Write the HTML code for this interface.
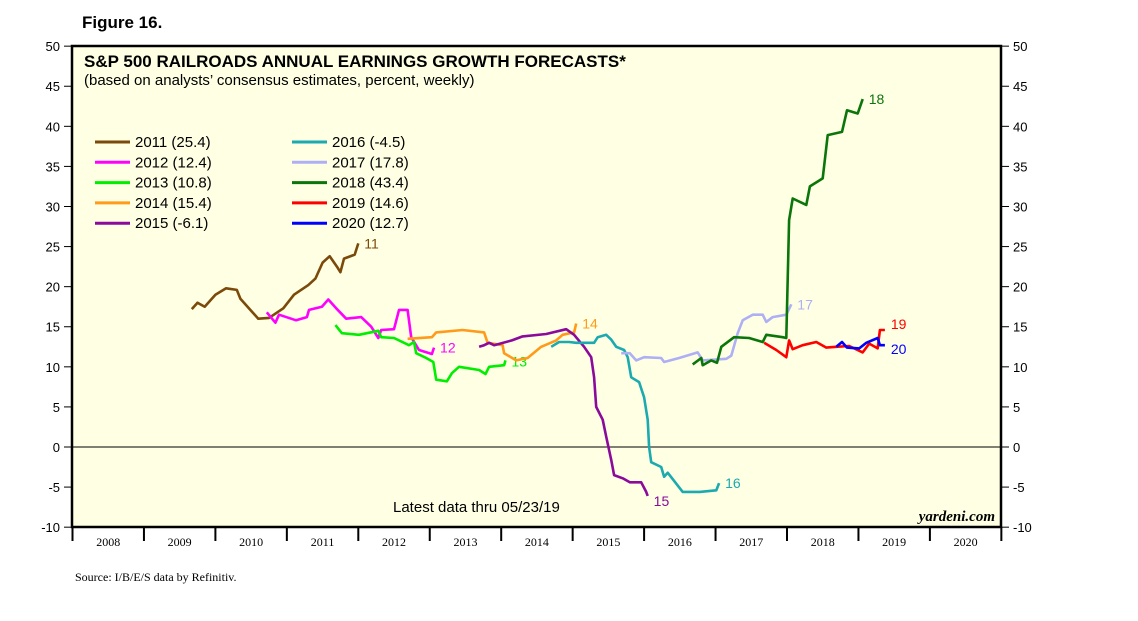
<!DOCTYPE html>
<html><head><meta charset="utf-8"><style>
body{margin:0;background:#fff;width:1138px;height:621px;overflow:hidden}
svg{display:block;font-family:"Liberation Sans",sans-serif}
</style></head><body>
<svg id="chart" width="1138" height="621" viewBox="0 0 1138 621">
<text x="82" y="28" font-size="17" font-weight="bold">Figure 16.</text>
<rect x="72" y="46" width="929" height="481" fill="#FFFFE3" stroke="#000" stroke-width="2.5"/>
<text x="84" y="67" font-size="17" font-weight="bold">S&amp;P 500 RAILROADS ANNUAL EARNINGS GROWTH FORECASTS*</text>
<text x="84" y="85" font-size="15">(based on analysts’ consensus estimates, percent, weekly)</text>
<g id="axes"></g>
<g id="series"></g>
<g id="legend"></g>
<text x="393" y="512" font-size="15">Latest data thru 05/23/19</text>
<text x="995" y="521" font-size="15" font-weight="bold" font-style="italic" text-anchor="end" font-family="Liberation Serif,serif">yardeni.com</text>
<text x="75" y="581" font-size="12" font-family="Liberation Serif,serif">Source: I/B/E/S data by Refinitiv.</text>
</svg>
<script>
const yTicks=[50,45,40,35,30,25,20,15,10,5,0,-5,-10];
const years=[2008,2009,2010,2011,2012,2013,2014,2015,2016,2017,2018,2019,2020];
const seriesNames=["11","12","13","14","15","16","17","18","19","20"];
const legendLabels=["2011 (25.4)","2012 (12.4)","2013 (10.8)","2014 (15.4)","2015 (-6.1)","2016 (-4.5)","2017 (17.8)","2018 (43.4)","2019 (14.6)","2020 (12.7)"];
const colors=["#7B4A0A","#FF00FF","#00EE00","#FF9A1A","#8B0A9B","#1AAAB0","#AFAFF5","#0A750A","#FF0000","#0000FF"];
const s2011=[[2009.67,17.2],[2009.75,18],[2009.85,17.5],[2010.0,19],[2010.15,19.8],[2010.3,19.6],[2010.35,18.5],[2010.5,17],[2010.6,16],[2010.75,16.1],[2010.95,17.3],[2011.1,19],[2011.3,20.2],[2011.4,21],[2011.5,23],[2011.6,23.8],[2011.7,22.5],[2011.75,21.8],[2011.8,23.5],[2011.95,24],[2012.0,25.4]];
const s2012=[[2010.72,16.8],[2010.84,15.5],[2010.89,16.5],[2011.13,15.8],[2011.28,16.2],[2011.31,17.1],[2011.49,17.5],[2011.58,18.4],[2011.69,17.3],[2011.83,16],[2012.04,16.2],[2012.18,15],[2012.28,13.6],[2012.32,14.6],[2012.5,14.7],[2012.57,17.1],[2012.69,17.1],[2012.74,13.7],[2012.85,12.1],[2013.03,11.6],[2013.06,12.4]];
const s2013=[[2011.68,15.2],[2011.77,14.2],[2012.01,14],[2012.28,14.5],[2012.32,13.7],[2012.5,13.6],[2012.71,12.7],[2012.78,13.1],[2012.81,11.7],[2012.95,11.1],[2013.05,10.6],[2013.09,8.4],[2013.24,8.2],[2013.31,9.2],[2013.41,10],[2013.69,9.6],[2013.78,9.1],[2013.83,10],[2014.04,10.2],[2014.06,10.8]];
const s2014=[[2012.69,13.5],[2013.03,13.7],[2013.09,14.3],[2013.46,14.6],[2013.76,14.3],[2013.81,13],[2014.02,12.7],[2014.04,11.7],[2014.21,10.8],[2014.37,11.1],[2014.56,12.5],[2014.77,13.3],[2014.86,14],[2015.02,14.3],[2015.05,15.4]];
const s2015=[[2013.69,12.5],[2013.76,12.7],[2013.83,13],[2013.9,12.7],[2014.15,13.3],[2014.3,13.8],[2014.63,14.1],[2014.91,14.7],[2015.02,14],[2015.16,12.5],[2015.26,11.2],[2015.3,8.7],[2015.33,5],[2015.42,3.4],[2015.47,1.3],[2015.54,-1.6],[2015.58,-3.5],[2015.7,-3.9],[2015.8,-4.4],[2015.96,-4.4],[2016.03,-5.6],[2016.05,-6.1]];
const s2016=[[2014.7,12.5],[2014.81,13.1],[2014.95,13.1],[2015.05,13],[2015.16,13],[2015.3,13],[2015.35,13.7],[2015.47,14],[2015.54,13.4],[2015.61,12.5],[2015.72,12.1],[2015.77,11.2],[2015.82,8.7],[2015.93,8.1],[2016.0,6.2],[2016.05,3.4],[2016.07,0],[2016.1,-1.9],[2016.24,-2.5],[2016.28,-3.7],[2016.33,-3.2],[2016.54,-5.6],[2016.78,-5.6],[2017.01,-5.4],[2017.05,-4.5]];
const s2017=[[2015.68,11.7],[2015.8,11.7],[2015.89,10.8],[2016.0,11.2],[2016.24,11.1],[2016.28,10.6],[2016.49,11.1],[2016.75,11.8],[2016.82,10.8],[2017.15,11],[2017.22,11.4],[2017.31,14.2],[2017.38,15.8],[2017.52,16.5],[2017.66,16.5],[2017.71,15.6],[2017.8,16.2],[2017.99,16.5],[2018.06,17.8]];
const s2018=[[2016.68,10.3],[2016.8,11.1],[2016.82,10.2],[2016.94,10.8],[2017.02,10.5],[2017.08,12.5],[2017.26,13.7],[2017.47,13.6],[2017.66,13.1],[2017.71,14],[2017.94,13.7],[2017.99,13.6],[2018.03,28.3],[2018.08,31],[2018.27,30.2],[2018.32,32.5],[2018.5,33.5],[2018.57,38.9],[2018.77,39.3],[2018.84,42],[2018.99,41.6],[2019.06,43.4]];
const s2019=[[2017.68,13],[2017.85,12.1],[2017.99,11.2],[2018.03,13.3],[2018.08,12.2],[2018.22,12.7],[2018.41,13.1],[2018.55,12.4],[2018.69,12.5],[2018.87,12.6],[2019.06,11.8],[2019.15,12.9],[2019.27,12.3],[2019.3,14.6],[2019.37,14.6]];
const s2020=[[2018.69,12.5],[2018.77,13.1],[2018.84,12.4],[2019.01,12.3],[2019.11,13],[2019.27,13.6],[2019.3,12.7],[2019.37,12.7]];
const allSeries=[s2011,s2012,s2013,s2014,s2015,s2016,s2017,s2018,s2019,s2020];

const X0=72.5,YW=71.45,Y0=447,YU=8.017;
function xs(t){return X0+(t-2008)*YW;}
function ys(v){return Y0-v*YU;}
const NS="http://www.w3.org/2000/svg";
function mk(tag,attrs,parent,text){const e=document.createElementNS(NS,tag);for(const k in attrs)e.setAttribute(k,attrs[k]);if(text!==undefined)e.textContent=text;parent.appendChild(e);return e;}
const axes=document.getElementById('axes');
yTicks.forEach(v=>{
  const y=ys(v);
  let t=mk('line',{x1:64,x2:72,y1:y,y2:y,stroke:'#000'},axes);
  
  
  t=mk('line',{x1:1001,x2:1009,y1:y,y2:y,stroke:'#000'},axes);
  
  
  let l=mk('text',{x:60,y:y+5,'font-size':13,'text-anchor':'end'},axes,String(v));
  
  
  l=mk('text',{x:1013,y:y+5,'font-size':13},axes,String(v));
  
  
});
const zl=mk('line',{x1:72,x2:1001,y1:ys(0),y2:ys(0),stroke:'#000','stroke-width':1},axes);


years.forEach((yr,i)=>{
  const x=xs(yr);
  const t=mk('line',{x1:x,x2:x,y1:527,y2:541,stroke:'#000','stroke-width':2},axes);
  
  
  const l=mk('text',{x:xs(yr+0.5),y:546,'font-size':12,'text-anchor':'middle','font-family':'Liberation Serif,serif'},axes,String(yr));
  
  
});
const et=mk('line',{x1:xs(2021),x2:xs(2021),y1:527,y2:541,stroke:'#000','stroke-width':2},axes);


const sg=document.getElementById('series');
allSeries.forEach((s,i)=>{
  const p=mk('polyline',{points:s.map(d=>xs(d[0]).toFixed(1)+','+ys(d[1]).toFixed(1)).join(' '),fill:'none',stroke:colors[i],'stroke-width':2.6,'stroke-linejoin':'round'},sg);
  
  
  const last=s[s.length-1];
  let dy=5;
  if(i===4)dy=10; if(i===8)dy=-1; if(i===9)dy=9; if(i===2)dy=6;
  const l=mk('text',{x:xs(last[0])+6,y:ys(last[1])+dy,'font-size':14,fill:colors[i]},sg,seriesNames[i]);
  
  
});
const lg=document.getElementById('legend');
legendLabels.forEach((lab,i)=>{
  const col=Math.floor(i/5),row=i%5;
  const x=95+col*197,y=142+row*20.3;
  const ln=mk('line',{x1:x,x2:x+35,y1:y,y2:y,stroke:colors[i],'stroke-width':3},lg);
  
  
  const t=mk('text',{x:x+40,y:y+5,'font-size':15},lg,lab);
  
  
});
</script>
</body></html>
